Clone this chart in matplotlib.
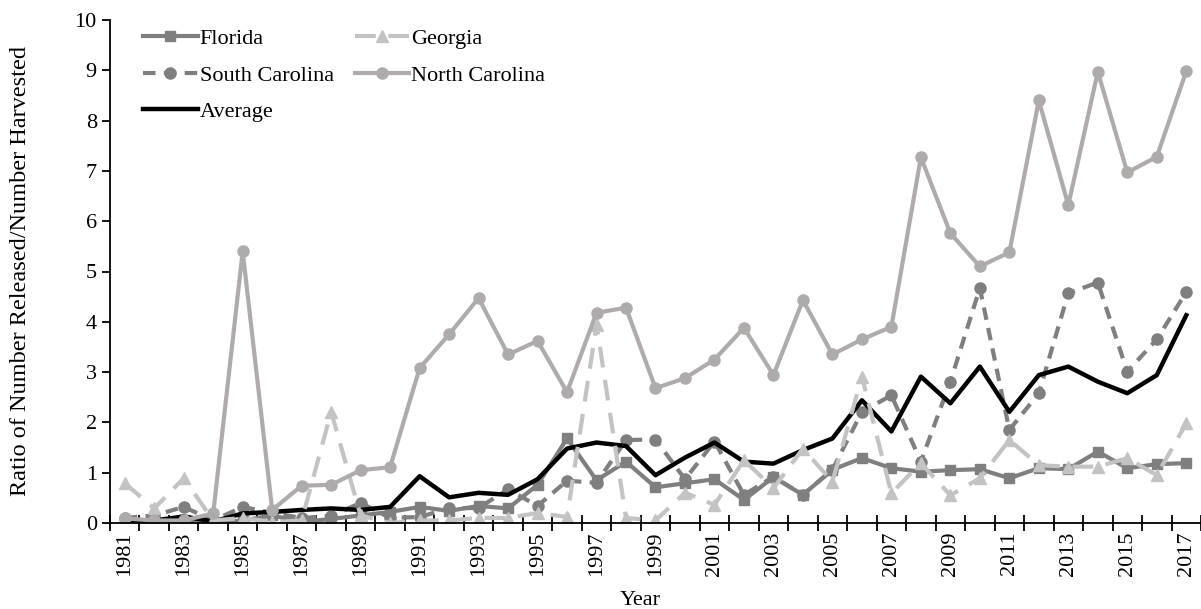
import numpy as np
from matplotlib import pyplot as plt
from matplotlib.ticker import FixedLocator

plt.rcParams['font.family'] = ['Liberation Serif', 'DejaVu Serif']

years = list(range(1981, 2018))

florida = [0.02, 0.05, 0.05, 0.0, 0.05, 0.15, 0.02, 0.08, 0.15, 0.22,
           0.32, 0.24, 0.34, 0.29, 0.76, 1.68, 0.85, 1.22, 0.71, 0.79,
           0.87, 0.46, 0.91, 0.56, 1.06, 1.29, 1.09, 1.02, 1.05, 1.07,
           0.89, 1.09, 1.07, 1.42, 1.09, 1.17, 1.19]
georgia = [0.79, 0.29, 0.89, 0.05, 0.1, 0.02, 0.05, 2.21, 0.15, 0.0,
           0.05, 0.05, 0.1, 0.1, 0.2, 0.12, 3.94, 0.1, 0.05, 0.6,
           0.36, 1.25, 0.69, 1.48, 0.82, 2.91, 0.59, 1.19, 0.55, 0.89,
           1.65, 1.15, 1.12, 1.12, 1.29, 0.95, 1.98]
south_carolina = [0.1, 0.15, 0.32, 0.05, 0.32, 0.2, 0.1, 0.14, 0.4, 0.1,
                  0.12, 0.29, 0.3, 0.67, 0.34, 0.84, 0.8, 1.65, 1.66, 0.87,
                  1.62, 0.56, 0.92, 0.56, 1.06, 2.21, 2.54, 1.22, 2.81, 4.67,
                  1.85, 2.58, 4.57, 4.78, 3.01, 3.65, 4.59]
north_carolina = [0.09, 0.05, 0.05, 0.19, 5.4, 0.26, 0.74, 0.76, 1.05, 1.11,
                  3.08, 3.75, 4.47, 3.35, 3.62, 2.6, 4.18, 4.28, 2.68, 2.88,
                  3.25, 3.88, 2.94, 4.43, 3.35, 3.65, 3.9, 7.27, 5.76, 5.1,
                  5.38, 8.4, 6.32, 8.97, 6.97, 7.28, 8.98]
average = [0.05, 0.05, 0.13, 0.03, 0.19, 0.22, 0.26, 0.29, 0.26, 0.32,
           0.93, 0.51, 0.6, 0.56, 0.87, 1.48, 1.6, 1.53, 0.95, 1.3,
           1.6, 1.22, 1.18, 1.45, 1.68, 2.44, 1.82, 2.91, 2.38, 3.11,
           2.21, 2.94, 3.11, 2.81, 2.58, 2.94, 4.13]

fig = plt.figure(figsize=(12.01, 6.09), dpi=100)
ax = fig.add_axes([110 / 1201, (609 - 523) / 609, (1201 - 110) / 1201, (523 - 20) / 609])

ax.plot(years, florida, color="#7f7f7f", lw=3, marker="s", ms=7, label="Florida")
ax.plot(years, south_carolina, color="#7f7f7f", lw=3, ls=(0, (3, 2)), marker="o", ms=8,
        label="South Carolina")
ax.plot(years, average, color="black", lw=3.2, label="Average")
ax.plot(years, georgia, color="#c3c3c3", lw=3, ls=(0, (5, 3)), marker="^", ms=8, label="Georgia")
ax.plot(years, north_carolina, color="#afabab", lw=3, marker="o", ms=8, label="North Carolina")

ax.set_xlim(1980.5, 2017.5)
ax.set_ylim(0, 10)
ax.set_yticks(range(0, 11))
ax.xaxis.set_major_locator(FixedLocator(years[::2]))
ax.xaxis.set_minor_locator(FixedLocator(np.arange(1980.5, 2018, 1)))
ax.tick_params(axis="x", which="major", length=0, labelsize=16, rotation=90, pad=6)
ax.tick_params(axis="x", which="minor", length=12, width=1.3, direction="inout")
ax.tick_params(axis="y", length=6, width=1.3, labelsize=16)

for side in ["top", "right"]:
    ax.spines[side].set_visible(False)
ax.spines["left"].set_linewidth(1.3)
ax.spines["bottom"].set_linewidth(1.3)

ax.set_xlabel("Year", fontsize=16, labelpad=9)
ax.xaxis.set_label_coords(0.486, -0.135)
ax.set_ylabel("Ratio of Number Released/Number Harvested", fontsize=17.5, labelpad=31)

ax.legend(loc="upper left", bbox_to_anchor=(0.012, 1.023), ncol=2, frameon=False, fontsize=16,
          handlelength=2.45, handletextpad=0.1, columnspacing=0.93, labelspacing=0.72)

plt.savefig("out.png", dpi=100)
